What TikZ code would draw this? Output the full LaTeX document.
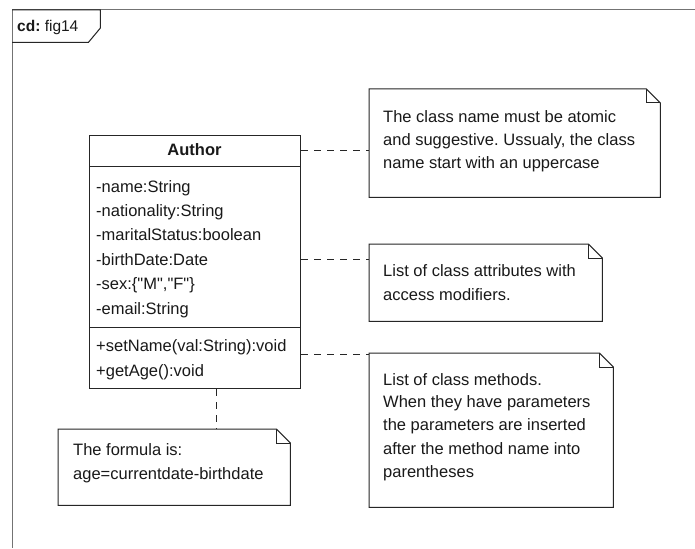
\documentclass[tikz,border=0pt]{standalone}
\usepackage{fontspec}
\setmainfont{Liberation Sans}
\usetikzlibrary{calc}
\frenchspacing
\begin{document}
\begin{tikzpicture}[x=1pt,y=-1pt,
  outline/.style={draw=black!85, line width=1pt},
  frameline/.style={draw=black!55, line width=1pt},
  compart/.style={outline, inner sep=0pt, anchor=north west},
  noteframe/.style={inner sep=0pt, anchor=north west},
  txt/.style={inner sep=0pt, anchor=base west, text=black!90,
    font=\fontsize{16.5}{19}\selectfont},
  link/.style={draw=black!85, line width=1pt, dash pattern=on 7pt off 6pt}]
  % canvas
  \useasboundingbox (0,0) rectangle (695,548);
  \fill[white] (0,0) rectangle (695,548);

  % diagram frame with its name tag
  \draw[frameline] (695,10) -- (12,10) -- (12,548);
  \node[noteframe, minimum width=88, minimum height=32] (tag) at (12,10) {};
  \draw[outline] (tag.north west) -- (tag.north east) -- ($(tag.north east)+(0,18)$)
    -- ($(tag.south east)+(-12,0)$) -- (tag.south west);
  \node[txt, font=\fontsize{15.5}{18}\selectfont] (tagtext) at (17,31.5) {\textbf{cd:} fig14};

  % class Author
  \node[compart, minimum width=211, minimum height=31] (head) at (89,135) {};
  \node[compart, minimum width=211, minimum height=161] (attrs) at (89,166) {};
  \node[compart, minimum width=211, minimum height=61] (ops) at (89,327) {};
  \node[txt, anchor=base] (cname) at (194.5,156) {\bfseries Author};
  \foreach \t/\b [count=\i] in {{-name:String}/192, {-nationality:String}/216,
      {-maritalStatus:boolean}/240.5, {-birthDate:Date}/265,
      {-sex:\{\textquotedbl M\textquotedbl,\textquotedbl F\textquotedbl\}}/289.5,
      {-email:String}/314}
    \node[txt] (attr\i) at (96,\b) {\t};
  \node[txt] (op1) at (96,351.5) {+setName(val:String):void};
  \node[txt] (op2) at (96,376) {+getAge():void};

  % notes with a folded corner
  \newcommand\foldednote[1]{%
    \draw[outline] (#1.north west) -- ($(#1.north east)+(-14,0)$) -- ($(#1.north east)+(0,14)$)
      -- (#1.south east) -- (#1.south west) -- cycle;
    \draw[outline] ($(#1.north east)+(-14,0)$) -- ($(#1.north east)+(-14,14)$)
      -- ($(#1.north east)+(0,14)$);}

  \node[noteframe, minimum width=291, minimum height=108] (n1) at (369,89) {};
  \node[noteframe, minimum width=233, minimum height=77] (n2) at (369,244) {};
  \node[noteframe, minimum width=244, minimum height=154] (n3) at (369,353) {};
  \node[noteframe, minimum width=232, minimum height=76] (n4) at (58,429) {};
  \foldednote{n1}
  \foldednote{n2}
  \foldednote{n3}
  \foldednote{n4}

  \node[txt] (n1a) at (383,122.5) {The class name must be atomic};
  \node[txt] (n1b) at (383,146) {and suggestive. Ussualy, the class};
  \node[txt] (n1c) at (383,168.5) {name start with an uppercase};

  \node[txt] (n2a) at (383,276.5) {List of class attributes with};
  \node[txt] (n2b) at (383,300) {access modifiers.};

  \node[txt] (n3a) at (383,385) {List of class methods.};
  \node[txt] (n3b) at (383,407.5) {When they have parameters};
  \node[txt] (n3c) at (383,430.5) {the parameters are inserted};
  \node[txt] (n3d) at (383,454) {after the method name into};
  \node[txt] (n3e) at (383,477.5) {parentheses};

  \node[txt] (n4a) at (73,455) {The formula is:};
  \node[txt] (n4b) at (73,479) {age=currentdate-birthdate};

  % anchorings of the notes
  \coordinate (c2) at ($(n2.north west)+(0,15)$);
  \coordinate (c3) at ($(n3.north west)+(0,1)$);
  \coordinate (c4) at ($(n4.north west)+(158,0)$);
  \draw[link] (head.east) -- (head.east -| n1.west);
  \draw[link] (attrs.east |- c2) -- (c2);
  \draw[link] (ops.east |- c3) -- (c3);
  \draw[link] (ops.south -| c4) -- (c4);
\end{tikzpicture}
\end{document}
